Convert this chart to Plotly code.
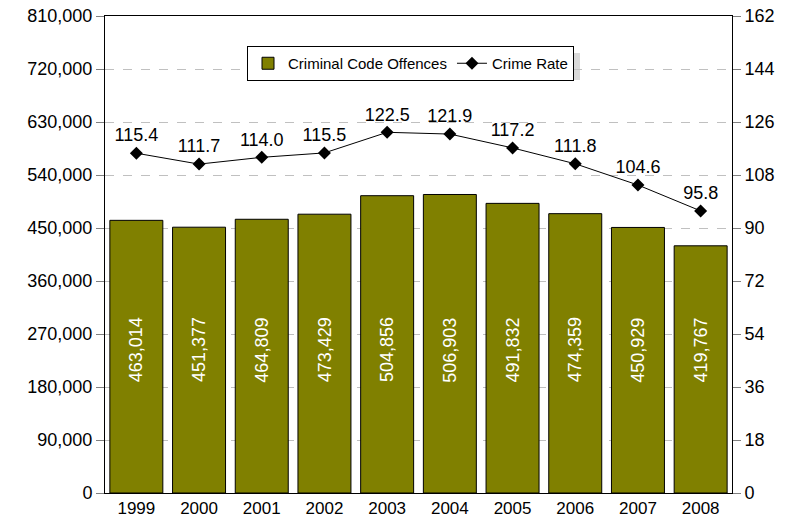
import plotly.graph_objects as go

years = [1999, 2000, 2001, 2002, 2003, 2004, 2005, 2006, 2007, 2008]
offences = [463014, 451377, 464809, 473429, 504856, 506903, 491832, 474359, 450929, 419767]
crime_rate = [115.4, 111.7, 114.0, 115.5, 122.5, 121.9, 117.2, 111.8, 104.6, 95.8]
year_labels = [str(y) for y in years]

FONT = "Liberation Sans, Arial, sans-serif"
W, H = 801, 523
# plot area in page pixels: x 105..732, y 16..493
ML, MT = 105, 16
MR, MB = W - 732, H - 493
PW, PH = W - ML - MR, H - MT - MB


def px2paper_x(px):
    return (px - ML) / PW


def px2paper_y(py):
    return (H - MB - py) / PH


fig = go.Figure()
fig.add_trace(go.Bar(
    x=years, y=offences, name="Criminal Code Offences",
    marker=dict(color="#808000", line=dict(color="#000000", width=1)),
    yaxis="y",
))
fig.add_trace(go.Scatter(
    x=years, y=crime_rate, name="Crime Rate", yaxis="y2",
    mode="lines+markers+text",
    line=dict(color="#000000", width=1),
    marker=dict(symbol="diamond", size=10, color="#000000"),
    text=[f"{v:.1f}" for v in crime_rate],
    textposition="top center",
    textfont=dict(family=FONT, size=18, color="#000000"),
))

for yr, v in zip(years, offences):
    fig.add_annotation(
        x=yr, y=243000, xref="x", yref="y", text=f"{v:,}",
        textangle=-90, showarrow=False,
        font=dict(family=FONT, size=18, color="#ffffff"),
    )

# legend drop shadow
fig.add_shape(type="rect", xref="paper", yref="paper",
              x0=px2paper_x(256), x1=px2paper_x(580),
              y0=px2paper_y(80), y1=px2paper_y(53),
              fillcolor="#d9d9d9", line=dict(width=0), layer="below")

fig.update_layout(
    width=W, height=H, autosize=False,
    margin=dict(l=ML, r=MR, t=MT, b=MB, pad=0, autoexpand=False),
    paper_bgcolor="#ffffff", plot_bgcolor="#ffffff",
    font=dict(family=FONT, size=18, color="#000000"),
    bargap=0.155,
    showlegend=True,
    legend=dict(
        orientation="h", x=px2paper_x(410.5), xanchor="center",
        y=px2paper_y(46), yanchor="top",
        bgcolor="#ffffff", bordercolor="#000000", borderwidth=1,
        font=dict(family=FONT, size=15, color="#000000"),
    ),
    xaxis=dict(
        range=[1998.5, 2008.5], tickmode="array", tickvals=years, ticktext=year_labels,
        showline=True, linecolor="#000000", linewidth=1, automargin=False,
        mirror=True, ticks="", showgrid=False, zeroline=False,
        tickfont=dict(family=FONT, size=17),
    ),
    yaxis=dict(
        range=[0, 810000], dtick=90000, tick0=0, tickformat=",", automargin=False,
        showline=True, linecolor="#000000", linewidth=1,
        ticks="outside", ticklen=8, tickcolor="#808080",
        showgrid=True, gridcolor="#c0c0c0", griddash="9px,9px", gridwidth=1,
        zeroline=False, tickfont=dict(family=FONT, size=18),
    ),
    yaxis2=dict(
        range=[0, 162], dtick=18, tick0=0, overlaying="y", side="right",
        showline=True, linecolor="#000000", linewidth=1, automargin=False,
        ticks="outside", ticklen=8, tickcolor="#808080",
        showgrid=False, zeroline=False, tickfont=dict(family=FONT, size=18),
    ),
)

fig.write_html(
    "out.html",
    config={"displayModeBar": False},
    post_script="document.body.style.margin='0';document.body.style.overflow='hidden';",
)
